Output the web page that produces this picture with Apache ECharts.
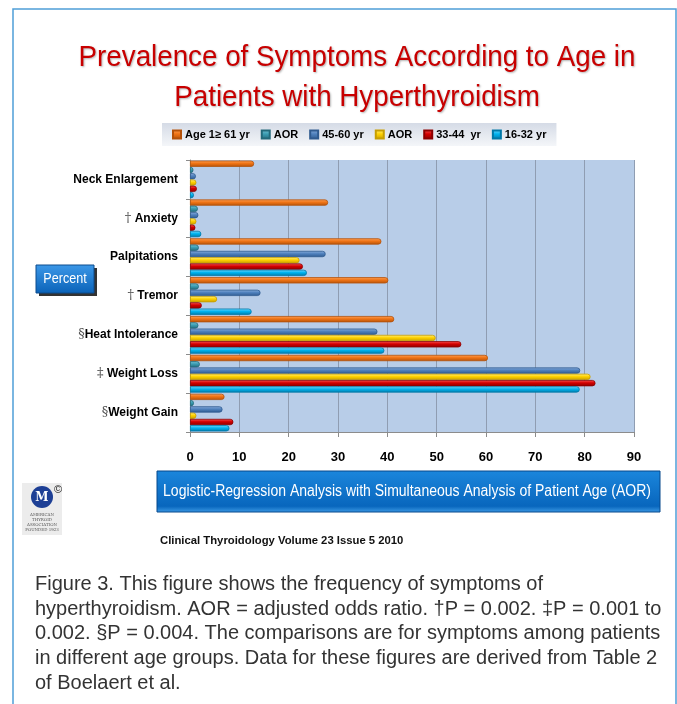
<!DOCTYPE html>
<html>
<head>
<meta charset="utf-8">
<script src="https://cdn.jsdelivr.net/npm/echarts@6/dist/echarts.min.js"></script>
<style>
html, body { margin: 0; padding: 0; background: #fff; }
#chart { width: 677px; height: 704px; }
</style>
</head>
<body>
<div id="chart"></div>
<script>
// categories, top to bottom
var symptoms = ['Neck Enlargement', '† Anxiety', 'Palpitations', '† Tremor', '§Heat Intolerance', '‡ Weight Loss', '§Weight Gain'];
// series names as in the legend (#n keeps the two AOR entries apart)
var seriesNames = ['Age 1≥ 61 yr', 'AOR#1', '45-60 yr', 'AOR#2', '33-44  yr', '16-32 yr'];
// percent values
var age61 = [13, 28, 38.8, 40.2, 41.4, 60.4, 7];
var aor1 = [0.7, 1.6, 1.8, 1.8, 1.7, 2.0, 0.8];
var age45 = [1.2, 1.7, 27.5, 14.3, 38, 79.1, 6.6];
var aor2 = [1.3, 1.3, 22.2, 5.5, 49.8, 81.2, 1.3];
var age33 = [1.4, 1.1, 22.9, 2.4, 55, 82.2, 8.8];
var age16 = [0.8, 2.3, 23.7, 12.5, 39.4, 79, 8];

var values = [age61, aor1, age45, aor2, age33, age16];
// light, base, dark
var colors = [
  ['#ffa35a', '#f07415', '#b4520a'],
  ['#7cc6d6', '#3b9db3', '#22697a'],
  ['#8db0de', '#4f81bd', '#2f5a8f'],
  ['#fff08a', '#ffd200', '#c79e00'],
  ['#ff5a5a', '#d40000', '#8c0000'],
  ['#7fdcff', '#00b4f0', '#0079a8']
];

function tube(c) {
  return {
    type: 'linear', x: 0, y: 0, x2: 0, y2: 1,
    colorStops: [
      { offset: 0, color: c[0] },
      { offset: 0.45, color: c[1] },
      { offset: 1, color: c[2] }
    ]
  };
}

var series = seriesNames.map(function (name, i) {
  return {
    name: name,
    type: 'bar',
    data: values[i],
    barGap: '0%',
    barCategoryGap: '3%',
    itemStyle: {
      color: tube(colors[i]),
      borderColor: colors[i][2],
      borderWidth: 0.8,
      borderRadius: [0, 3, 3, 0]
    }
  };
});

var myChart = echarts.init(document.getElementById('chart'));

var titleStyle = {
  fill: '#c80000',
  fontFamily: 'Liberation Sans',
  fontSize: 30,
  textAlign: 'center',
  textVerticalAlign: 'middle',
  textShadowColor: 'rgba(0,0,0,0.3)',
  textShadowBlur: 2,
  textShadowOffsetX: 1,
  textShadowOffsetY: 1
};

var option = {
  animation: false,
  legend: {
    left: 162,
    top: 123,
    padding: [6, 10, 6, 10],
    itemWidth: 8,
    itemHeight: 8,
    itemGap: 11,
    icon: 'rect',
    backgroundColor: {
      type: 'linear', x: 0, y: 0, x2: 0, y2: 1,
      colorStops: [{ offset: 0, color: '#d5dbe6' }, { offset: 1, color: '#f4f6f9' }]
    },
    formatter: function (name) { return name.replace(/#\d$/, ''); },
    textStyle: { fontFamily: 'Liberation Sans', fontWeight: 'bold', fontSize: 11, color: '#000', padding: [0, 0, 0, -1] }
  },
  grid: {
    left: 190, top: 160, width: 444, height: 272,
    show: true, backgroundColor: '#b8cde8', borderWidth: 0
  },
  xAxis: {
    type: 'value',
    min: 0, max: 90, interval: 10,
    axisLine: { show: true, lineStyle: { color: '#8c8c8c' } },
    axisTick: { show: true, length: 5, lineStyle: { color: '#8c8c8c' } },
    axisLabel: { margin: 19, color: '#000', fontFamily: 'Liberation Sans', fontWeight: 'bold', fontSize: 13 },
    splitLine: { show: true, lineStyle: { color: '#8f9db2', width: 1 } }
  },
  yAxis: {
    type: 'category',
    inverse: true,
    data: symptoms,
    axisLine: { show: true, lineStyle: { color: '#8c8c8c' } },
    axisTick: { show: true, length: 4, lineStyle: { color: '#8c8c8c' } },
    axisLabel: {
      margin: 12,
      formatter: function (v) {
        var c = v.charAt(0);
        if (c === '†' || c === '‡' || c === '§') {
          return '{s|' + c + '}{b|' + v.slice(1) + '}';
        }
        return '{b|' + v + '}';
      },
      rich: {
        s: { fontFamily: 'DejaVu Serif', fontSize: 13, color: '#555', fontWeight: 'normal' },
        b: { fontFamily: 'Liberation Sans', fontSize: 12, color: '#000', fontWeight: 'bold' }
      }
    }
  },
  graphic: [
    // outer frame
    { type: 'rect', shape: { x: 13, y: 9, width: 663, height: 720 }, style: { fill: 'none', stroke: '#4f9fd8', lineWidth: 1.5 }, silent: true },
    // title, squeezed to look like the narrow original
    { type: 'text', x: 357, y: 58, scaleX: 0.925, style: Object.assign({ text: 'Prevalence of Symptoms According to Age in' }, titleStyle), silent: true },
    { type: 'text', x: 357, y: 98, scaleX: 0.925, style: Object.assign({ text: 'Patients with Hyperthyroidism' }, titleStyle), silent: true },
    // Percent button
    { type: 'rect', shape: { x: 39, y: 268, width: 58, height: 28 }, style: { fill: '#333' }, silent: true },
    { type: 'rect', shape: { x: 36, y: 265, width: 58, height: 28 },
      style: {
        fill: { type: 'linear', x: 0, y: 0, x2: 0, y2: 1, colorStops: [{ offset: 0, color: '#3c98e8' }, { offset: 1, color: '#0a62b8' }] },
        stroke: '#0c4d8e', lineWidth: 1
      }, silent: true },
    { type: 'text', x: 65, y: 279, scaleX: 0.9, style: { text: 'Percent', fill: '#fff', fontFamily: 'Liberation Sans', fontSize: 14, textAlign: 'center', textVerticalAlign: 'middle' }, silent: true },
    // bottom blue bar
    { type: 'rect', shape: { x: 157, y: 471, width: 503, height: 41 },
      style: {
        fill: { type: 'linear', x: 0, y: 0, x2: 0, y2: 1, colorStops: [{ offset: 0, color: '#1b86dc' }, { offset: 0.85, color: '#0866bd' }, { offset: 1, color: '#3d9be6' }] },
        stroke: '#06488c', lineWidth: 1
      }, silent: true },
    { type: 'text', x: 407, y: 492, scaleX: 0.875, style: { text: 'Logistic-Regression Analysis with Simultaneous Analysis of Patient Age (AOR)', fill: '#fff', fontFamily: 'Liberation Sans', fontSize: 16, textAlign: 'center', textVerticalAlign: 'middle' }, silent: true },
    // logo
    { type: 'rect', shape: { x: 22, y: 483, width: 40, height: 52 }, style: { fill: '#ececec' }, silent: true },
    { type: 'circle', shape: { cx: 42, cy: 497, r: 11 }, style: { fill: '#1d3f95' }, silent: true },
    { type: 'text', x: 42, y: 498, style: { text: 'M', fill: '#fff', fontFamily: 'DejaVu Serif', fontWeight: 'bold', fontSize: 12, textAlign: 'center', textVerticalAlign: 'middle' }, silent: true },
    { type: 'text', x: 58, y: 490, style: { text: '©', fill: '#222', fontFamily: 'Liberation Sans', fontSize: 11, textAlign: 'center', textVerticalAlign: 'middle' }, silent: true },
    { type: 'text', x: 42, y: 512, style: { text: 'AMERICAN\nTHYROID\nASSOCIATION\nFOUNDED 1923', fill: '#555', fontFamily: 'DejaVu Serif', fontSize: 4, lineHeight: 5, textAlign: 'center' }, silent: true },
    // source line
    { type: 'text', x: 160, y: 541, style: { text: 'Clinical Thyroidology Volume 23 Issue 5 2010', fill: '#111', fontFamily: 'Liberation Sans', fontWeight: 'bold', fontSize: 11.3, textVerticalAlign: 'middle' }, silent: true },
    // caption
    { type: 'text', x: 35, y: 572, style: {
        text: 'Figure 3. This figure shows the frequency of symptoms of\nhyperthyroidism. AOR = adjusted odds ratio. †P = 0.002. ‡P = 0.001 to\n0.002. §P = 0.004. The comparisons are for symptoms among patients\nin different age groups. Data for these figures are derived from Table 2\nof Boelaert et al.',
        fill: '#333', fontFamily: 'Liberation Sans', fontSize: 20, lineHeight: 24.7
      }, silent: true }
  ],
  series: series
};

myChart.setOption(option);
</script>
</body>
</html>
